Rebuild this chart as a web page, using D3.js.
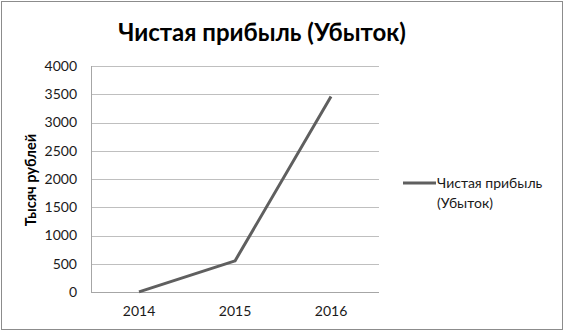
<!DOCTYPE html>
<html><head><meta charset="utf-8">
<script src="https://cdn.jsdelivr.net/npm/d3@7"></script>
<style>body{margin:0;background:#fff}svg{display:block;font-family:Lato,"Open Sans",sans-serif}</style>
</head><body><svg id="c" width="564" height="332"></svg>
<script>
const categories = ["2014", "2015", "2016"];
const values = [2, 550, 3460];
const yTicks = [0, 500, 1000, 1500, 2000, 2500, 3000, 3500, 4000];
const seriesName = ["Чистая прибыль", "(Убыток)"];
const titleText = "Чистая прибыль (Убыток)";
const yTitle = "Тысяч рублей";

const svg = d3.select("#c");
svg.append("rect").attr("x",1.5).attr("y",1.5).attr("width",561).attr("height",328)
  .attr("fill","#fff").attr("stroke","#8c8c8c").attr("stroke-width",1);

const L=91, R=379, T=66, B=292;
const x = d3.scaleBand().domain(categories).range([L,R]);
const y = d3.scaleLinear().domain([0,4000]).range([B,T]);

svg.append("g").selectAll("line").data(yTicks).join("line")
  .attr("x1",L).attr("x2",R).attr("y1",d=>Math.round(y(d))+0.5).attr("y2",d=>Math.round(y(d))+0.5)
  .attr("stroke",d=>d===0?"#a6a6a6":"#bfbfbf").attr("stroke-width",1);
svg.append("line").attr("x1",L+0.5).attr("x2",L+0.5).attr("y1",T).attr("y2",B+0.5)
  .attr("stroke","#a6a6a6");

const yAxis = d3.axisLeft(y).tickValues(yTicks).tickFormat(d3.format("d")).tickSize(0).tickPadding(14);
const gy = svg.append("g").attr("transform",`translate(${L},0)`).call(yAxis);
gy.select(".domain").remove();
gy.selectAll("text").attr("font-family","Lato").attr("font-size",14).attr("fill","#1a1a1a");

const xAxis = d3.axisBottom(x).tickSize(0).tickPadding(14);
const gx = svg.append("g").attr("transform",`translate(0,${B})`).call(xAxis);
gx.select(".domain").remove();
gx.selectAll("text").attr("font-family","Lato").attr("font-size",14).attr("fill","#1a1a1a");

const line = d3.line().x((d,i)=>x(categories[i])+x.bandwidth()/2).y(d=>y(d));
svg.append("path").datum(values).attr("d",line).attr("fill","none")
  .attr("stroke","#5f5f5f").attr("stroke-width",3).attr("stroke-linejoin","round");

svg.append("text").attr("x",262).attr("y",41).attr("text-anchor","middle")
  .attr("font-family","Lato").attr("font-weight","bold").attr("font-size",24).attr("fill","#000")
  .text(titleText);

svg.append("text").attr("transform","translate(36,180) rotate(-90)").attr("text-anchor","middle")
  .attr("font-family","Lato").attr("font-weight","bold").attr("font-size",14.5).attr("fill","#000")
  .text(yTitle);

svg.append("line").attr("x1",403).attr("x2",436).attr("y1",183).attr("y2",183)
  .attr("stroke","#5f5f5f").attr("stroke-width",3);
svg.append("g").selectAll("text").data(seriesName).join("text")
  .attr("x",437).attr("y",(d,i)=>188+i*20)
  .attr("font-family","Lato").attr("font-size",14).attr("fill","#1a1a1a").text(d=>d);
</script></body></html>
